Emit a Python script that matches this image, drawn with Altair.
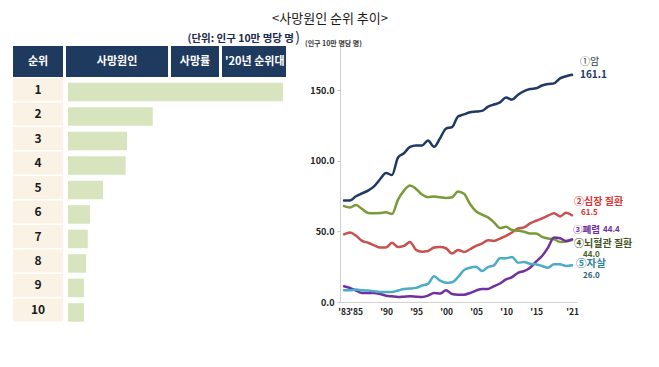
import altair as alt
import pandas as pd

FONT = "Noto Sans CJK KR"

# ---------------- data ----------------
years = list(range(1983, 2022))
cancer = [72, 72, 75, 77, 79, 82, 87, 91.5, 90, 102.5,
          105.5, 110, 111, 111, 114.5, 110, 116, 123, 124, 131.5,
          133, 134.5, 135, 135.5, 138.5, 140, 141.5, 145, 143.5, 147,
          149.5, 151, 151.5, 153.5, 154.5, 155, 158.5, 160.1, 161.1]
heart = [48, 49.3, 47, 43.3, 42, 40.2, 38.6, 38.6, 42, 39,
         39.8, 42.6, 37, 35.7, 36.2, 38.6, 39, 38.1, 34.3, 36.9,
         35.5, 37.4, 39.8, 41.4, 43.8, 43.3, 45, 46.9, 49.3, 52.1,
         52.9, 55.7, 57.6, 59.3, 61.2, 62.9, 60.7, 63.3, 61.5]
cerebro = [68, 67, 68.8, 66, 63.1, 62.9, 63.1, 63.6, 62.4, 72.6,
           79, 82.6, 80.2, 76.2, 74.3, 74.8, 74.3, 73.8, 74.3, 78.3,
           76.7, 69.5, 64.3, 61.9, 60, 56.4, 52.4, 53.3, 51, 50.5,
           49.8, 48.6, 48.6, 46.2, 45, 44.5, 42.6, 42.9, 44.0]
pneumonia = [11.2, 10, 8.1, 6.4, 6.4, 6.4, 5.7, 4.5, 4, 3.6,
             3.8, 4, 3.8, 3.6, 4.5, 6.4, 6, 8.3, 5.7, 5.2,
             5.2, 6.4, 8.1, 9.3, 9.3, 11.2, 13.1, 16, 17.6, 20.7,
             21.9, 24.3, 28.6, 32.6, 38.6, 45.7, 45.2, 43.3, 44.4]
suicide = [8.3, 8.3, 8.8, 8.3, 8.1, 7.6, 7.1, 7.1, 7.1, 8.1,
           9.3, 9.5, 10, 11.7, 12.9, 18.3, 15.2, 13.6, 14, 17.6,
           22.6, 24.3, 25, 21.9, 24.8, 26, 31, 31, 31.9, 27.9,
           28.3, 27.1, 26.7, 25.5, 24.3, 26.7, 26.7, 25.5, 26.0]

series_names = ["암", "심장 질환", "뇌혈관 질환", "폐렴", "자살"]
series_values = [cancer, heart, cerebro, pneumonia, suicide]
series_colors = ["#1F3864", "#C9504E", "#7A9A3A", "#7030A0", "#4BACC6"]

x_tick_years = [1983, 1985, 1990, 1995, 2000, 2005, 2010, 2015, 2021]
y_tick_values = [0, 50, 100, 150]

ranks = list(range(1, 11))
rank_rates = [161.1, 63.5, 44.2, 43.2, 26.2, 16.5, 14.8, 13.5, 12.0, 12.0]
headers = ["순위", "사망원인", "사망률", "'20년 순위대비"]

title_text = "<사망원인 순위 추이>"
unit_text = "(단위: 인구 10만 명당 명"
unit_close = ")"
axis_unit_text = "(인구 10만 명당 명)"

# ---------------- left panel (table with bars) ----------------
LW, LH = 273, 276
one = pd.DataFrame({"k": [0]})
yscale_l = alt.Scale(domain=[-0.776, 10.49], reverse=True)
xscale_l = alt.Scale(domain=[-41.2, 163.3])

hdr_cols = [(0, 50, 25, "center"), (53, 155, 104, "center"),
            (158, 206, 182, "center"), (209, 273, 212, "left")]
left_layers = []
for label, (x0, x1, tx, al) in zip(headers, hdr_cols):
    lim = (x1 - tx + 1) if al == "left" else (x1 - x0)
    left_layers.append(
        alt.Chart(one).mark_rect(color="#1F3A5F").encode(
            x=alt.value(x0), x2=alt.value(x1), y=alt.value(0), y2=alt.value(31))
    )
    left_layers.append(
        alt.Chart(pd.DataFrame({"t": [label]})).mark_text(
            font=FONT, fontSize=11, fontWeight="bold", color="white",
            align=al, baseline="middle", limit=lim, ellipsis="\u200b").encode(
            x=alt.value(tx), y=alt.value(16), text="t:N")
    )

tdf = pd.DataFrame({"rank": ranks, "rate": rank_rates})
cells = alt.Chart(tdf).transform_calculate(
    t="datum.rank - 0.47", b="datum.rank + 0.47"
).mark_rect(color="#FBF2E6").encode(
    x=alt.value(0), x2=alt.value(50),
    y=alt.Y("t:Q", scale=yscale_l, axis=None), y2="b:Q")
rank_txt = alt.Chart(tdf).mark_text(
    font=FONT, fontSize=12, fontWeight="bold", color="#1a1a1a", baseline="middle"
).encode(x=alt.value(25), y=alt.Y("rank:Q", scale=yscale_l, axis=None), text="rank:Q")
bars = alt.Chart(tdf).transform_calculate(
    zero="0", t2="datum.rank - 0.278", b2="datum.rank + 0.478"
).mark_rect(color="#D7E4BD").encode(
    x=alt.X("zero:Q", scale=xscale_l, axis=None), x2="rate:Q",
    y=alt.Y("t2:Q", scale=yscale_l, axis=None), y2="b2:Q")

left = alt.layer(*left_layers, cells, rank_txt, bars).properties(width=LW, height=LH)

# ---------------- right panel (lines) ----------------
rows = []
for name, vals in zip(series_names, series_values):
    for yr, v in zip(years, vals):
        rows.append({"year": yr, "value": v, "series": name})
ldf = pd.DataFrame(rows)

xs = alt.Scale(domain=[1982.33, 2021.83], nice=False, zero=False)
ys = alt.Scale(domain=[0, 181.5], nice=False)

x_axis = alt.Axis(
    values=x_tick_years, labelExpr="\"'\" + substring(toString(datum.value), 2)",
    title=None, grid=False, ticks=False, domainColor="#d0d0d0",
    labelFont=FONT, labelFontSize=8.5, labelFontWeight="bold", labelColor="#222",
    labelPadding=5, labelOverlap=False, labelFlush=False)
y_axis = alt.Axis(
    values=y_tick_values, format=".1f", title=None, grid=False,
    tickSize=3, tickColor="#c8c8c8", domainColor="#d0d0d0",
    labelFont=FONT, labelFontSize=9, labelFontWeight="bold", labelColor="#222",
    labelPadding=3, labelOverlap=False)


def X():
    return alt.X("year:Q", scale=xs, axis=x_axis)


def Y():
    return alt.Y("value:Q", scale=ys, axis=y_axis)


lines = alt.Chart(ldf).mark_line(strokeWidth=2.5, interpolate="monotone", strokeCap="round").encode(
    x=X(), y=Y(),
    color=alt.Color("series:N", scale=alt.Scale(domain=series_names, range=series_colors), legend=None),
    order=alt.Order("year:Q"),
)

end_labels = [
    # (series index, text, color, size, weight, dx, dy)
    (0, "①암", "#3a3a3a", 10, "normal", 8, -12.5),
    (0, f"{cancer[-1]}", "#1F3864", 10, "bold", 8, 0),
    (1, "②심장 질환", "#E0302F", 10, "bold", 2, -13),
    (1, f"{heart[-1]}", "#E0302F", 8, "bold", 9, -2.5),
    (3, "③폐렴", "#7030A0", 9.5, "bold", 1, -9),
    (3, f"{pneumonia[-1]}", "#7030A0", 8, "bold", 31, -9),
    (2, "④뇌혈관 질환", "#44541F", 10, "bold", 2, 4),
    (2, f"{cerebro[-1]:.1f}", "#4F6228", 8, "bold", 11, 15.5),
    (4, "⑤자살", "#31859C", 10.5, "bold", 4, -1.5),
    (4, f"{suicide[-1]:.1f}", "#2A5F78", 8, "bold", 11, 10.5),
]
label_layers = []
for idx, txt, col, sz, wt, dx, dy in end_labels:
    d = pd.DataFrame({"year": [years[-1]], "value": [series_values[idx][-1]], "t": [txt]})
    label_layers.append(
        alt.Chart(d).mark_text(font=FONT, fontSize=sz, fontWeight=wt, color=col,
                               align="left", baseline="middle", dx=dx, dy=dy).encode(
            x=X(), y=Y(), text="t:N")
    )

titles = [
    (title_text, -10, -27.5, 13, "normal", "center", "#1a1a1a"),
    (unit_text, -46, -7.5, 10.5, "bold", "right", "#1a2a4a"),
    (unit_close, -40, -8.5, 14, "normal", "right", "#1a2a4a"),
    (axis_unit_text, -35, -2.5, 7, "bold", "left", "#333333"),
]
title_layers = []
for txt, tx, ty, sz, wt, al, col in titles:
    title_layers.append(
        alt.Chart(pd.DataFrame({"t": [txt]})).mark_text(
            font=FONT, fontSize=sz, fontWeight=wt, align=al, baseline="middle", color=col).encode(
            x=alt.value(tx), y=alt.value(ty), text="t:N")
    )

right = alt.layer(lines, *label_layers, *title_layers).properties(width=237, height=256)

chart = alt.hconcat(left, right, spacing=54, bounds="flush").properties(
    padding={"left": 5, "top": 4, "right": 5, "bottom": 5}
).configure_view(stroke=None)

chart.save("out.html", embed_options={"renderer": "svg", "actions": False})
